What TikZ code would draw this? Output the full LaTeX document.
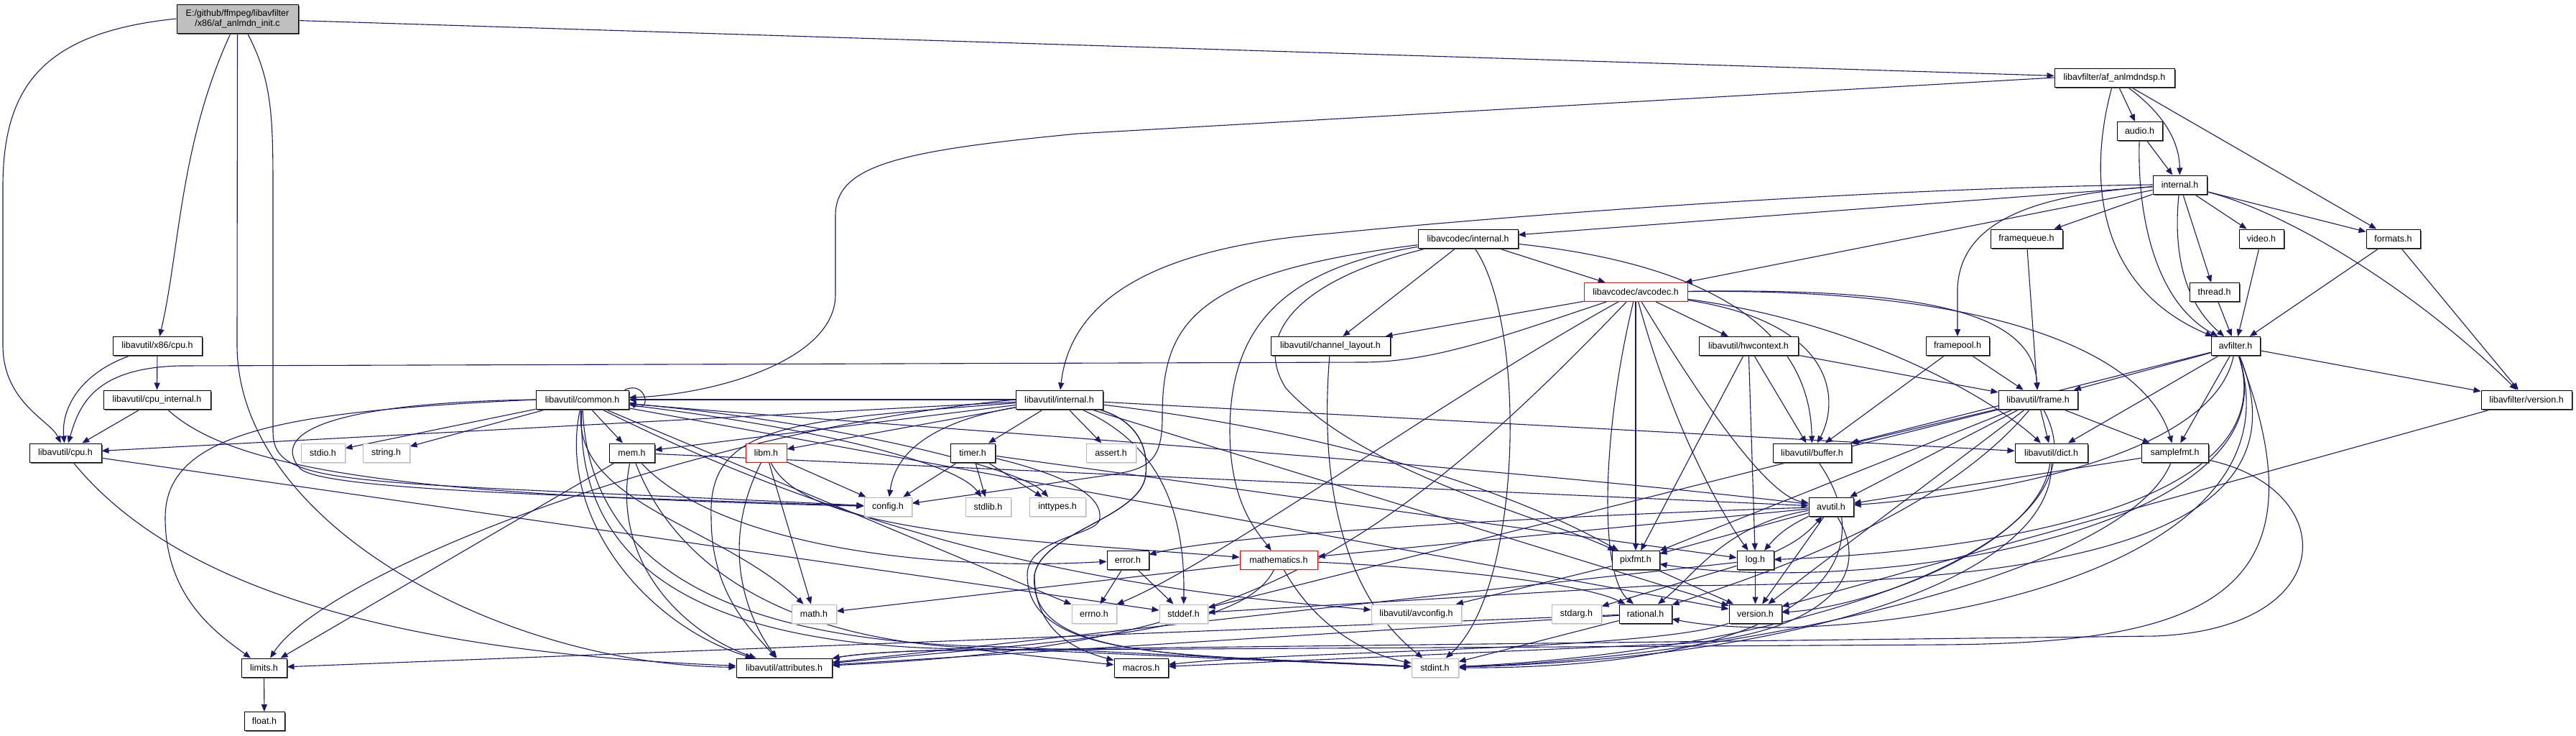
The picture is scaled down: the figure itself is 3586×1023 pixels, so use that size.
\documentclass[tikz,border=0pt]{standalone}
\usepackage{fontspec}
\setmainfont{Liberation Sans}
\usetikzlibrary{arrows.meta,shadows}
\definecolor{edgecol}{HTML}{191970}
\pgfdeclarelayer{bg}
\pgfdeclarelayer{edges}
\pgfsetlayers{bg,edges,main}
\tikzset{
 nbase/.style={rectangle, minimum height=26pt, inner sep=0pt, font=\fontsize{12.5}{14}\selectfont, text=black, line width=1pt},
 nb/.style={nbase, draw=black, fill=white, drop shadow={shadow xshift=1.5pt, shadow yshift=-1.5pt, fill=black!65, opacity=1}},
 ng/.style={nbase, draw=gray!55, fill=white, drop shadow={shadow xshift=1.5pt, shadow yshift=-1.5pt, fill=gray!30, opacity=1}},
 nr/.style={nbase, draw=red, fill=white},
 nmain/.style={nbase, draw=black, fill=gray!50, minimum height=40pt, align=center, drop shadow={shadow xshift=1.5pt, shadow yshift=-1.5pt, fill=black!65, opacity=1}},
 e/.style={draw=edgecol, line width=1.1pt, -{Triangle[length=10pt,width=8pt]}},
}
\newcommand\mynode[6]{\node[#5,minimum width=#4pt] (#1) at (#2,#3) {#6};}
\begin{document}
\begin{tikzpicture}[x=1pt,y=-1pt]
\useasboundingbox (0,0) rectangle (3586,1023);
\begin{pgfonlayer}{bg}
\fill[white] (0,0) rectangle (3586,1023);
\end{pgfonlayer}
% nodes
\mynode{main}{330.5}{26}{169}{nmain}{E:/github/ffmpeg/libavfilter\\/x86/af\_anlmdn\_init.c}
\mynode{dsp}{2943.5}{108}{167}{nb}{libavfilter/af\_anlmdndsp.h}
\mynode{audio}{2978.5}{182.5}{63}{nb}{audio.h}
\mynode{finternal}{3034.5}{257}{75}{nb}{internal.h}
\mynode{framequeue}{2821}{332}{100}{nb}{framequeue.h}
\mynode{video}{3148}{332}{62}{nb}{video.h}
\mynode{formats}{3331.5}{332}{75}{nb}{formats.h}
\mynode{thread}{3082.5}{406.5}{69}{nb}{thread.h}
\mynode{avfilter}{3112}{481.5}{68}{nb}{avfilter.h}
\mynode{framepool}{2725}{481.5}{88}{nb}{framepool.h}
\mynode{lcinternal}{2043.5}{332}{139}{nb}{libavcodec/internal.h}
\mynode{avcodec}{2277}{406.5}{144}{nr}{libavcodec/avcodec.h}
\mynode{chlayout}{1852}{481.5}{166}{nb}{libavutil/channel\_layout.h}
\mynode{hwcontext}{2434}{481.5}{138}{nb}{libavutil/hwcontext.h}
\mynode{x86cpu}{219}{481.5}{124}{nb}{libavutil/x86/cpu.h}
\mynode{cpuint}{218.5}{556}{149}{nb}{libavutil/cpu\_internal.h}
\mynode{cpu}{91}{630}{100}{nb}{libavutil/cpu.h}
\mynode{common}{810.5}{556}{129}{nb}{libavutil/common.h}
\mynode{uinternal}{1474.5}{556}{121}{nb}{libavutil/internal.h}
\mynode{frame}{2837}{556}{110}{nb}{libavutil/frame.h}
\mynode{fversion}{3517}{556}{126}{nb}{libavfilter/version.h}
\mynode{stdio}{449.5}{630}{61}{ng}{stdio.h}
\mynode{string}{537.5}{630}{65}{ng}{string.h}
\mynode{mem}{879.5}{630}{63}{nb}{mem.h}
\mynode{libm}{1066.5}{630}{57}{nr}{libm.h}
\mynode{timer}{1354}{630}{62}{nb}{timer.h}
\mynode{assert}{1546.5}{630}{69}{ng}{assert.h}
\mynode{buffer}{2522.5}{630}{109}{nb}{libavutil/buffer.h}
\mynode{dict}{2855.5}{630}{101}{nb}{libavutil/dict.h}
\mynode{samplefmt}{3027.5}{630}{93}{nb}{samplefmt.h}
\mynode{config}{1236}{705}{66}{ng}{config.h}
\mynode{stdlib}{1375.5}{705}{63}{ng}{stdlib.h}
\mynode{inttypes}{1472}{705}{78}{ng}{inttypes.h}
\mynode{avutil}{2549}{705}{62}{nb}{avutil.h}
\mynode{error}{1570}{779.5}{58}{nb}{error.h}
\mynode{mathematics}{1780}{779.5}{108}{nr}{mathematics.h}
\mynode{pixfmt}{2277}{779.5}{66}{nb}{pixfmt.h}
\mynode{log}{2443.5}{779.5}{51}{nb}{log.h}
\mynode{math}{1133}{854}{62}{ng}{math.h}
\mynode{errno}{1523}{854}{62}{ng}{errno.h}
\mynode{stddef}{1647.5}{854}{67}{ng}{stddef.h}
\mynode{avconfig}{1971.5}{854}{125}{ng}{libavutil/avconfig.h}
\mynode{stdarg}{2194.5}{854}{69}{ng}{stdarg.h}
\mynode{rational}{2290.5}{854}{73}{nb}{rational.h}
\mynode{uversion}{2443.5}{854}{73}{nb}{version.h}
\mynode{limits}{367.5}{929}{63}{nb}{limits.h}
\mynode{attributes}{1091.5}{929}{133}{nb}{libavutil/attributes.h}
\mynode{macros}{1588.5}{929}{75}{nb}{macros.h}
\mynode{stdint}{1997.5}{929}{65}{ng}{stdint.h}
\mynode{float}{368}{1003.5}{56}{nb}{float.h}
\begin{pgfonlayer}{edges}
% main
\draw[e] (main) -- (dsp);
\draw[e] (main) .. controls (250,200) and (250,350) .. (x86cpu);
\draw[e] (main.west) .. controls (60,45) and (4,120) .. (4,260) -- (4,480) .. controls (4,560) and (70,585) .. (cpu);
\draw[e] (main.south) -- (330,480) .. controls (330,730) and (700,925) .. (attributes);
\draw[e] ([xshift=14pt]main.south) .. controls (378,110) and (380,160) .. (380,260) -- (380,600) .. controls (380,680) and (480,668) .. (config);
% x86cpu, cpuint, cpu
\draw[e] (x86cpu) -- (cpuint);
\draw[e] (x86cpu) .. controls (110,520) and (85,570) .. (cpu);
\draw[e] (cpuint) -- (cpu);
\draw[e] (cpuint) .. controls (330,660) and (600,690) .. (config);
\draw[e] (cpu) .. controls (230,800) and (500,905) .. (attributes);
\draw[e] (cpu) -- (stddef);
% dsp
\draw[e] (dsp) -- (audio);
\draw[e] (dsp) .. controls (3015,160) and (3034,200) .. (finternal);
\draw[e] (dsp) -- (formats);
\draw[e] (dsp) .. controls (2905,250) and (2920,400) .. (avfilter);
\draw[e] (dsp.west) -- (1500,186) .. controls (1250,210) and (1163,230) .. (1163,300) -- (1163,410) .. controls (1163,500) and (1000,548) .. (common);
% audio
\draw[e] (audio) -- (finternal);
\draw[e] (audio) .. controls (2975,300) and (3000,420) .. (avfilter);
% libavfilter internal
\draw[e] (finternal.west) .. controls (2600,262) and (2100,300) .. (1850,325) .. controls (1600,345) and (1490,420) .. (uinternal);
\draw[e] (finternal) -- (lcinternal);
\draw[e] (finternal) -- (avcodec);
\draw[e] (finternal) .. controls (2850,270) and (2730,300) .. (2725,400) -- (framepool);
\draw[e] (finternal) -- (framequeue);
\draw[e] (finternal) .. controls (3025,350) and (3040,420) .. (avfilter);
\draw[e] (finternal) -- (thread);
\draw[e] (finternal) -- (video);
\draw[e] (finternal) -- (formats);
\draw[e] (finternal) .. controls (3200,300) and (3380,420) .. (fversion);
% small libavfilter headers
\draw[e] (framequeue) -- (frame);
\draw[e] (video) -- (avfilter);
\draw[e] (formats) -- (avfilter);
\draw[e] (formats) -- (fversion);
\draw[e] (thread) -- (avfilter);
\draw[e] (framepool) -- (buffer);
\draw[e] (framepool) -- (frame);
% avfilter
\draw[e] (avfilter) -- (frame);
\draw[e] (avfilter) -- (buffer);
\draw[e] (avfilter) -- (dict);
\draw[e] (avfilter) -- (samplefmt);
\draw[e] (avfilter) .. controls (3080,640) and (2750,690) .. (avutil);
\draw[e] (avfilter) .. controls (3190,720) and (2700,770) .. (log);
\draw[e] (avfilter) .. controls (3200,740) and (2600,830) .. (pixfmt);
\draw[e] (avfilter) .. controls (3220,820) and (2550,905) .. (rational);
\draw[e] (avfilter) .. controls (3250,840) and (3050,895) .. (2700,897) -- (1300,905) .. controls (1220,907) and (1180,912) .. (attributes);
\draw[e] (avfilter) .. controls (3230,770) and (2800,815) .. (2300,815) -- (stddef);
\draw[e] (avfilter) -- (fversion);
% libavcodec internal
\draw[e] (lcinternal) -- (avcodec);
\draw[e] (lcinternal) -- (chlayout);
\draw[e] (lcinternal) .. controls (2126,450) and (2120,820) .. (stdint);
\draw[e] (lcinternal) .. controls (2400,370) and (2520,470) .. (buffer);
\draw[e] (lcinternal) .. controls (1660,380) and (1618,450) .. (1618,580) .. controls (1618,640) and (1600,652) .. (1550,660) -- (config);
\draw[e] (lcinternal) .. controls (1780,375) and (1712,460) .. (1712,600) .. controls (1712,700) and (1750,740) .. (mathematics);
\draw[e] (lcinternal) .. controls (1800,390) and (1745,470) .. (1790,540) .. controls (1900,660) and (2150,720) .. (pixfmt);
% avcodec
\draw[e] (avcodec) .. controls (2100,465) and (2000,503) .. (1900,504) -- (250,509) .. controls (130,512) and (110,565) .. (cpu);
\draw[e] (avcodec) -- (chlayout);
\draw[e] (avcodec) -- (hwcontext);
\draw[e] (avcodec) .. controls (2560,450) and (2560,560) .. (buffer);
\draw[e] (avcodec) .. controls (2600,450) and (2780,560) .. (dict);
\draw[e] (avcodec) .. controls (2700,400) and (2830,440) .. (frame);
\draw[e] (avcodec) .. controls (2800,400) and (2990,500) .. (samplefmt);
\draw[e] (avcodec) .. controls (2370,560) and (2460,690) .. (avutil);
\draw[e] (avcodec) .. controls (2330,600) and (2400,720) .. (log);
\draw[e] (avcodec) -- (pixfmt);
\draw[e] (avcodec) .. controls (2230,600) and (2225,800) .. (rational);
\draw[e] (avcodec) .. controls (2000,560) and (1700,780) .. (errno);
\draw[e] (avcodec) .. controls (1900,800) and (1700,900) .. (attributes);
% channel layout, hwcontext
\draw[e] (chlayout) .. controls (1838,650) and (1860,820) .. (stdint);
\draw[e] (hwcontext) -- (buffer);
\draw[e] (hwcontext) -- (frame);
\draw[e] (hwcontext) -- (log);
\draw[e] (hwcontext) -- (pixfmt);
% frame
\draw[e] (frame) -- (buffer);
\draw[e] (frame) -- (dict);
\draw[e] (frame) -- (samplefmt);
\draw[e] (frame) -- (avutil);
\draw[e] (frame) -- (pixfmt);
\draw[e] (frame) -- (uversion);
\draw[e] (frame) -- (stddef);
\draw[e] (frame) .. controls (2700,720) and (2450,800) .. (rational);
\draw[e] (frame) .. controls (2950,760) and (2500,905) .. (stdint);
% buffer, dict, samplefmt
\draw[e] (buffer) .. controls (2640,800) and (2480,930) .. (stdint);
\draw[e] (dict) .. controls (2860,800) and (2520,915) .. (stdint);
\draw[e] (dict) .. controls (2840,760) and (2600,845) .. (uversion);
\draw[e] (samplefmt) -- (avutil);
\draw[e] (samplefmt) .. controls (2960,800) and (2420,915) .. (stdint);
\draw[e] (samplefmt) .. controls (3260,680) and (3260,875) .. (3000,885) -- (1300,905) .. controls (1220,907) and (1180,912) .. (attributes);
% avutil
\draw[e] (avutil) .. controls (2000,640) and (1200,590) .. (common);
\draw[e] (avutil) .. controls (2100,720) and (1700,745) .. (error);
\draw[e] (avutil) .. controls (2400,730) and (2360,800) .. (rational);
\draw[e] (avutil) -- (uversion);
\draw[e] (avutil) .. controls (2620,820) and (2500,895) .. (2300,897) -- (macros);
\draw[e] (avutil) -- (mathematics);
\draw[e] (avutil) to[bend right=12] (log);
\draw[e] (log) to[bend right=12] (avutil);
\draw[e] (avutil) -- (pixfmt);
% common
\draw[e] (common) -- (stdio);
\draw[e] (common) -- (string);
\draw[e] (common) -- (mem);
\draw[e] (common.west) .. controls (400,572) and (230,600) .. (230,720) .. controls (230,830) and (300,880) .. (limits);
\draw[e] (common.west) .. controls (470,560) and (372,600) .. (418,652) .. controls (450,682) and (800,690) .. (config);
\draw[e] (common) .. controls (795,700) and (1000,730) .. (math);
\draw[e] (common) .. controls (775,720) and (900,870) .. (attributes);
\draw[e] (common) -- (errno);
\draw[e] (common) .. controls (820,780) and (1000,895) .. (1400,900) -- (stdint);
\draw[e] (common) .. controls (800,790) and (980,900) .. (1350,903) -- (macros);
\draw[e] (common) -- (uversion);
\draw[e] (common) .. controls (1300,800) and (1700,830) .. (avconfig);
\draw[e] (common) .. controls (1150,585) and (1420,650) .. (inttypes);
\draw[e] (common) .. controls (1100,590) and (1330,640) .. (stdlib);
\draw[e] ([xshift=-6pt]common.north east) .. controls (900,528) and (908,575) .. ([yshift=-4pt]common.east);
% libavutil internal
\draw[e] (uinternal) -- (common);
\draw[e] (uinternal) -- (cpu);
\draw[e] (uinternal) -- (mem);
\draw[e] (uinternal) -- (libm);
\draw[e] (uinternal) -- (timer);
\draw[e] (uinternal) -- (assert);
\draw[e] (uinternal) .. controls (1280,590) and (1245,640) .. (config);
\draw[e] (uinternal) .. controls (1100,585) and (985,590) .. (990,720) .. controls (990,830) and (1050,880) .. (attributes);
\draw[e] (uinternal.west) .. controls (950,600) and (450,800) .. (limits);
\draw[e] (uinternal) .. controls (1570,580) and (1600,610) .. (1595,660) .. controls (1590,720) and (1450,740) .. (1440,800) .. controls (1430,920) and (1650,910) .. (stdint);
\draw[e] (uinternal) .. controls (1570,580) and (1600,610) .. (1595,660) .. controls (1590,720) and (1450,740) .. (1440,800) .. controls (1440,880) and (1500,905) .. (macros);
\draw[e] (uinternal) .. controls (1620,620) and (1650,720) .. (stddef);
\draw[e] (uinternal) -- (dict);
\draw[e] (uinternal) .. controls (1850,600) and (2100,680) .. (pixfmt);
\draw[e] (uinternal) -- (uversion);
% mem
\draw[e] (mem) -- (limits);
\draw[e] (mem) .. controls (850,780) and (950,880) .. (attributes);
\draw[e] (mem) .. controls (1000,760) and (1300,795) .. (error);
\draw[e] (mem) -- (avutil);
\draw[e] (mem) .. controls (940,790) and (1100,900) .. (1400,903) -- (stdint);
% libm
\draw[e] (libm) -- (math);
\draw[e] (libm) -- (config);
\draw[e] (libm) .. controls (1000,760) and (1040,860) .. (attributes);
\draw[e] (libm) .. controls (1120,740) and (1400,750) .. (mathematics);
% timer
\draw[e] (timer) -- (config);
\draw[e] (timer) -- (stdlib);
\draw[e] (timer) -- (inttypes);
\draw[e] (timer) -- (log);
\draw[e] (timer) .. controls (1480,660) and (1540,690) .. (1530,725) .. controls (1520,745) and (1430,750) .. (1430,800) .. controls (1430,920) and (1650,910) .. (stdint);
% error, mathematics
\draw[e] (error) -- (errno);
\draw[e] (error) -- (stddef);
\draw[e] (mathematics) -- (math);
\draw[e] (mathematics) .. controls (1730,880) and (1500,890) .. (attributes);
\draw[e] (mathematics) .. controls (1830,870) and (1900,910) .. (stdint);
\draw[e] (mathematics) .. controls (2000,790) and (2200,810) .. (rational);
% pixfmt, log, rational, version
\draw[e] (pixfmt) -- (avconfig);
\draw[e] (pixfmt) -- (uversion);
\draw[e] (log) -- (stdarg);
\draw[e] (log) -- (uversion);
\draw[e] (log) -- (attributes);
\draw[e] (rational) -- (stdint);
\draw[e] (rational) -- (limits);
\draw[e] (rational) -- (attributes);
\draw[e] (uversion) .. controls (2300,905) and (1800,905) .. (macros);
\draw[e] (limits) -- (float);
\draw[e] (fversion) -- (uversion);
\end{pgfonlayer}
\end{tikzpicture}
\end{document}
